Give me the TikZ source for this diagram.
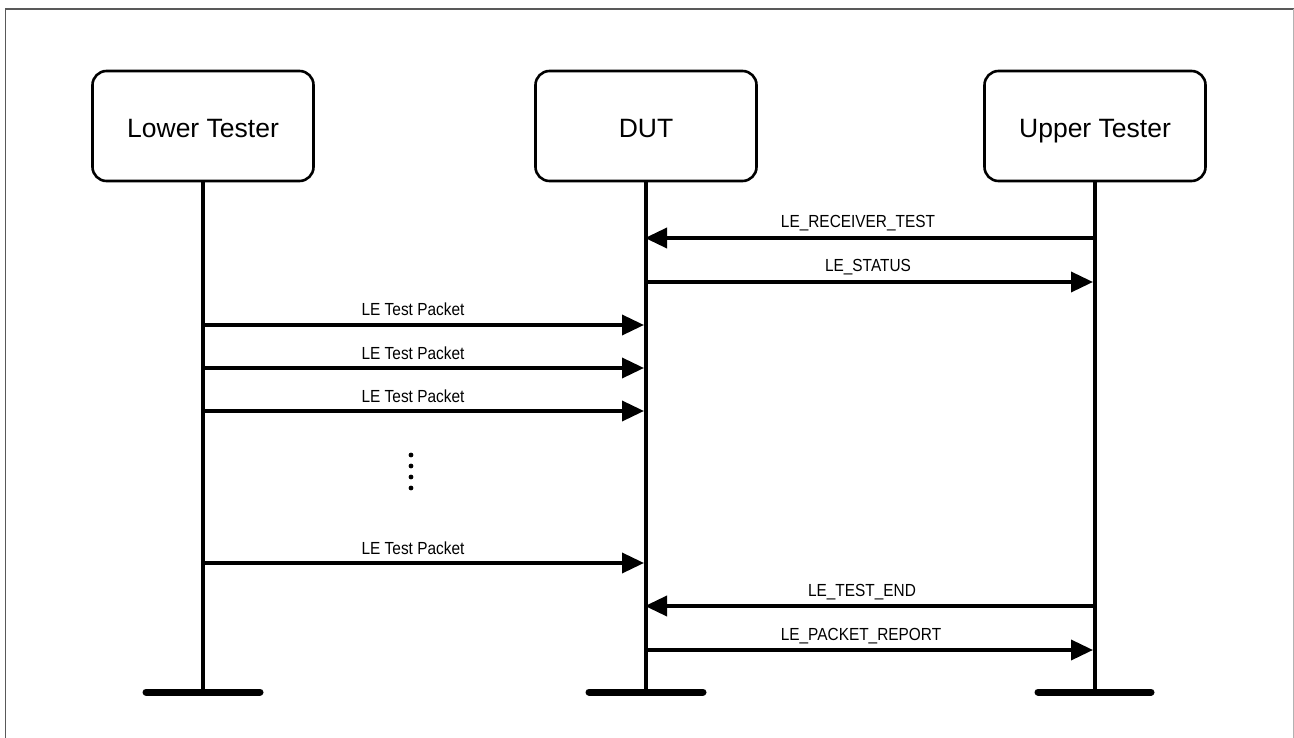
\documentclass[tikz,border=0pt]{standalone}
\usepackage{fontspec}
\setmainfont{Liberation Sans}
\newfontfamily\msgfont[FakeStretch=0.88]{Liberation Sans}
\usetikzlibrary{arrows.meta}
\begin{document}
\begin{tikzpicture}[x=1pt,y=-1pt,
  actor/.style={draw,line width=2.6pt,rounded corners=14pt,minimum width=221pt,minimum height=110pt,
    inner sep=0pt,text height=24pt,text depth=0pt,font=\fontsize{26.5}{30}\selectfont},
  life/.style={line width=3.8pt},
  basebar/.style={line width=7pt,line cap=round},
  msg/.style={line width=3.6pt,-{Triangle[length=22pt,width=20pt]}},
  lbl/.style={font=\msgfont\fontsize{17.5}{20}\selectfont,inner sep=0pt,anchor=base},
  frameline/.style={line width=1.6pt}]
\useasboundingbox (0,0) rectangle (1294,738);
\fill[white] (0,0) rectangle (1294,738);
% frame
\draw[frameline,draw=black!65] (5.5,738) -- (5.5,9) -- (1293.5,9);
\draw[line width=0.9pt,draw=black!30] (1293.5,9) -- (1293.5,738);

% actors
\node[actor] (L) at (203,126) {Lower Tester};
\node[actor] (D) at (646,126) {DUT};
\node[actor] (U) at (1095,126) {Upper Tester};

% lifeline ends
\coordinate (Le) at (203,692);
\coordinate (De) at (646,692);
\coordinate (Ue) at (1095,692);
\draw[life] (L.south) -- (Le);
\draw[life] (D.south) -- (De);
\draw[life] (U.south) -- (Ue);

% base bars
\coordinate (Lb1) at (146,692); \coordinate (Lb2) at (260,692);
\coordinate (Db1) at (589,692); \coordinate (Db2) at (703,692);
\coordinate (Ub1) at (1038,692); \coordinate (Ub2) at (1151,692);
\draw[basebar] (Lb1) -- (Lb2);
\draw[basebar] (Db1) -- (Db2);
\draw[basebar] (Ub1) -- (Ub2);

% message endpoints
\coordinate (u1) at (1095,238); \coordinate (d1) at (645,238);
\coordinate (d2) at (646,282); \coordinate (u2) at (1093,282);
\coordinate (l3) at (203,325); \coordinate (d3) at (644,325);
\coordinate (l4) at (203,368); \coordinate (d4) at (644,368);
\coordinate (l5) at (203,411); \coordinate (d5) at (644,411);
\coordinate (l6) at (203,563); \coordinate (d6) at (644,563);
\coordinate (u7) at (1095,606); \coordinate (d7) at (645,606);
\coordinate (d8) at (646,650); \coordinate (u8) at (1093,650);

\draw[msg] (u1) -- (d1);
\draw[msg] (d2) -- (u2);
\draw[msg] (l3) -- (d3);
\draw[msg] (l4) -- (d4);
\draw[msg] (l5) -- (d5);
\draw[msg] (l6) -- (d6);
\draw[msg] (u7) -- (d7);
\draw[msg] (d8) -- (u8);

% labels
\node[lbl] (t1) at (858,228) {LE\_RECEIVER\_TEST};
\node[lbl] (t2) at (868,272) {LE\_STATUS};
\node[lbl] (t3) at (413,316) {LE Test Packet};
\node[lbl] (t4) at (413,359) {LE Test Packet};
\node[lbl] (t5) at (413,402) {LE Test Packet};
\node[lbl] (t6) at (413,554) {LE Test Packet};
\node[lbl] (t7) at (862,596) {LE\_TEST\_END};
\node[lbl] (t8) at (861,640) {LE\_PACKET\_REPORT};

% vertical ellipsis
\foreach \yy in {455,466,477,488} \fill (411,\yy) circle (2.4pt);
\end{tikzpicture}
\end{document}
